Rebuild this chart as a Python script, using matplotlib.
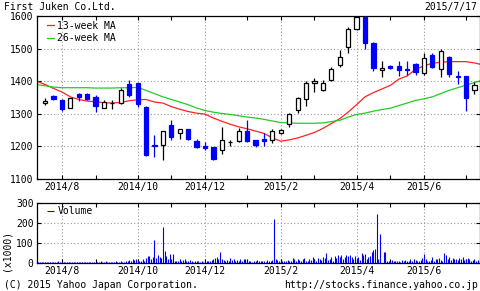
import matplotlib
matplotlib.use('Agg')
import matplotlib.pyplot as plt
import numpy as np
import pandas as pd

plt.rcParams['font.family'] = 'DejaVu Sans Mono'
plt.rcParams['font.size'] = 7

# weekly candles (week starting Monday)
weeks = pd.date_range('2014-07-21', periods=52, freq='W-MON')
opens = [1332, 1354, 1342, 1319, 1362, 1362, 1352, 1319, 1332, 1332, 1391, 1393, 1321,
         1205, 1204, 1267, 1240, 1252, 1218, 1201, 1197, 1190, 1212, 1216, 1247, 1219,
         1224, 1221, 1240, 1268, 1311, 1344, 1396, 1372, 1405, 1449, 1505, 1559, 1597,
         1518, 1433, 1447, 1447, 1437, 1453, 1425, 1480, 1437, 1475, 1416, 1415, 1372]
highs = [1348, 1357, 1345, 1349, 1364, 1365, 1357, 1342, 1342, 1380, 1405, 1395, 1324,
         1234, 1248, 1280, 1253, 1254, 1224, 1214, 1199, 1258, 1219, 1255, 1280, 1221,
         1240, 1252, 1253, 1303, 1352, 1400, 1409, 1405, 1444, 1497, 1567, 1600, 1600,
         1520, 1461, 1449, 1461, 1461, 1456, 1486, 1486, 1498, 1477, 1432, 1416, 1398]
lows = [1326, 1342, 1310, 1318, 1340, 1342, 1304, 1318, 1316, 1330, 1352, 1322, 1170,
        1168, 1158, 1221, 1222, 1220, 1194, 1188, 1158, 1176, 1200, 1214, 1214, 1197,
        1201, 1211, 1238, 1260, 1301, 1323, 1368, 1370, 1401, 1444, 1486, 1556, 1500,
        1431, 1412, 1438, 1417, 1418, 1420, 1420, 1442, 1412, 1412, 1391, 1309, 1362]
closes = [1340, 1344, 1316, 1347, 1352, 1345, 1324, 1335, 1334, 1374, 1359, 1330, 1175,
          1202, 1247, 1229, 1252, 1222, 1197, 1195, 1161, 1219, 1215, 1247, 1217, 1204,
          1216, 1248, 1250, 1299, 1347, 1393, 1400, 1395, 1437, 1475, 1559, 1597, 1517,
          1440, 1440, 1440, 1434, 1434, 1427, 1471, 1444, 1494, 1422, 1413, 1350, 1388]

# moving averages, from the week before the first candle to the week after the last
ma13 = [1400, 1390, 1378, 1367, 1352, 1344, 1339, 1337, 1334, 1333, 1335, 1340, 1343, 1344,
        1336, 1333, 1322, 1314, 1307, 1302, 1299, 1287, 1277, 1268, 1260, 1254, 1247, 1240,
        1226, 1216, 1220, 1226, 1234, 1243, 1255, 1270, 1285, 1305, 1328, 1352, 1365, 1376,
        1387, 1406, 1416, 1436, 1447, 1455, 1458, 1460, 1460, 1460, 1456, 1450]
ma26 = [1390, 1386, 1382, 1380, 1380, 1380, 1380, 1379, 1379, 1379, 1380, 1380, 1381, 1372,
        1362, 1352, 1344, 1336, 1328, 1318, 1310, 1305, 1301, 1298, 1294, 1290, 1287, 1283,
        1278, 1273, 1272, 1271, 1271, 1271, 1272, 1276, 1280, 1290, 1298, 1302, 1308, 1313,
        1317, 1325, 1333, 1341, 1346, 1352, 1362, 1372, 1380, 1388, 1396, 1403]

# daily volume (x1000), five days per week, from the week before the first candle
volume_weeks = [
    [6, 4, 5, 3, 4], [3, 5, 4, 6, 3], [4, 3, 5, 4, 7], [12, 6, 4, 5, 3], [4, 6, 3, 5, 4],
    [3, 5, 4, 3, 6], [4, 3, 5, 4, 3], [5, 4, 6, 3, 4], [10, 6, 4, 12, 5], [4, 5, 3, 6, 10],
    [6, 4, 8, 5, 7], [12, 8, 15, 10, 18], [14, 20, 10, 8, 12], [18, 10, 25, 33, 35],
    [20, 30, 115, 25, 40], [30, 25, 182, 60, 35], [20, 47, 15, 47, 12], [10, 8, 20, 12, 15],
    [18, 10, 8, 14, 9], [6, 10, 8, 12, 7], [9, 6, 12, 8, 10], [12, 15, 20, 25, 32],
    [18, 57, 22, 15, 12], [14, 10, 25, 15, 20], [12, 15, 10, 18, 8], [20, 22, 14, 10, 8],
    [6, 12, 10, 15, 8], [10, 8, 12, 6, 14], [10, 12, 15, 218, 20], [15, 10, 20, 12, 8],
    [10, 14, 8, 12, 25], [18, 10, 22, 15, 12], [20, 25, 12, 10, 18], [15, 30, 20, 12, 25],
    [20, 15, 30, 25, 48], [15, 22, 30, 12, 35], [25, 40, 30, 38, 20], [30, 38, 35, 40, 30],
    [20, 35, 25, 30, 15], [50, 40, 45, 20, 30], [35, 55, 65, 70, 245], [20, 145, 0, 53, 53],
    [10, 8, 12, 15, 10], [8, 12, 10, 6, 14], [12, 15, 10, 8, 20], [10, 18, 14, 12, 8],
    [15, 25, 47, 20, 12], [10, 15, 30, 12, 20], [18, 25, 15, 12, 50], [40, 20, 30, 15, 25],
    [18, 22, 15, 25, 20], [30, 15, 20, 25, 18], [12, 15, 20, 10, 15]]

idx = np.arange(len(weeks))
ma_x = np.arange(-1, len(ma13) - 1)
vol = np.array(volume_weeks).ravel()
vol_x = np.arange(len(vol)) / 5.0 - 1.4

# month ticks: first week of each month
tick_pos, tick_lab, grid_pos = [], [], []
for i in range(1, len(weeks)):
    if weeks[i].month != weeks[i - 1].month:
        tick_pos.append(i)
        if weeks[i].month % 2 == 0:
            tick_lab.append('%d/%d' % (weeks[i].year, weeks[i].month))
            grid_pos.append(i)
        else:
            tick_lab.append('')

W, H = 480, 291
fig = plt.figure(figsize=(W / 100, H / 100), dpi=100)
ax = fig.add_axes([37 / W, 1 - 179 / H, 442.5 / W, 163 / H])
axv = fig.add_axes([37 / W, 1 - 263 / H, 442.5 / W, 60 / H])

gridkw = dict(color='#999999', lw=0.8, ls=(0, (1, 2)), zorder=0)
for a in (ax, axv):
    a.set_xlim(-0.95, 51.6)
    a.set_xticks(tick_pos)
    a.set_xticklabels(tick_lab)
    a.tick_params(direction='in', length=3, top=True, right=True, pad=2.5, width=0.8)
    for g in grid_pos:
        a.axvline(g, **gridkw)
    for s in a.spines.values():
        s.set_linewidth(0.9)

# moving averages
ax.plot(ma_x, ma13, color='#ff2222', lw=0.9, label='13-week MA', zorder=2)
ax.plot(ma_x, ma26, color='#22cc22', lw=0.9, label='26-week MA', zorder=2)

# candles
for i in idx:
    o, h, l, c = opens[i], highs[i], lows[i], closes[i]
    up = c >= o
    col = 'black' if up else '#0000ff'
    ax.vlines(i, l, h, color=col, lw=0.9, zorder=3)
    ax.bar(i, max(abs(c - o), 0.5), bottom=min(o, c), width=0.5,
           facecolor='white' if up else '#0000ff', edgecolor=col, lw=0.9, zorder=4)

ax.set_ylim(1100, 1600)
ax.set_yticks([1100, 1200, 1300, 1400, 1500, 1600])
for yv in [1200, 1300, 1400, 1500]:
    ax.axhline(yv, **gridkw)
ax.legend(loc='upper left', bbox_to_anchor=(0.022, 0.972), frameon=False,
          handlelength=0.7, handletextpad=0.35, labelspacing=0.25,
          borderpad=0, borderaxespad=0, fontsize=7)

# volume
axv.vlines(vol_x, 0, vol, color='#0000ff', lw=0.8, label='Volume', zorder=2)
axv.set_ylim(0, 300)
axv.set_yticks([0, 100, 200, 300])
for yv in [100, 200]:
    axv.axhline(yv, **gridkw)
axv.legend(loc='upper left', bbox_to_anchor=(0.022, 0.95), frameon=False,
           handlelength=0.7, handletextpad=0.45, borderpad=0, borderaxespad=0, fontsize=7)

fig.text(4 / W, 1 - 7 / H, 'First Juken Co.Ltd.', ha='left', va='center')
fig.text(477 / W, 1 - 7 / H, '2015/7/17', ha='right', va='center')
fig.text(6.5 / W, 1 - 250 / H, '(x1000)', rotation=90, ha='center', va='center')
fig.text(4 / W, 1 - 284.5 / H, '(C) 2015 Yahoo Japan Corporation.', ha='left', va='center')
fig.text(478 / W, 1 - 284.5 / H, 'http://stocks.finance.yahoo.co.jp', ha='right', va='center')

fig.savefig('out.png', dpi=100)
